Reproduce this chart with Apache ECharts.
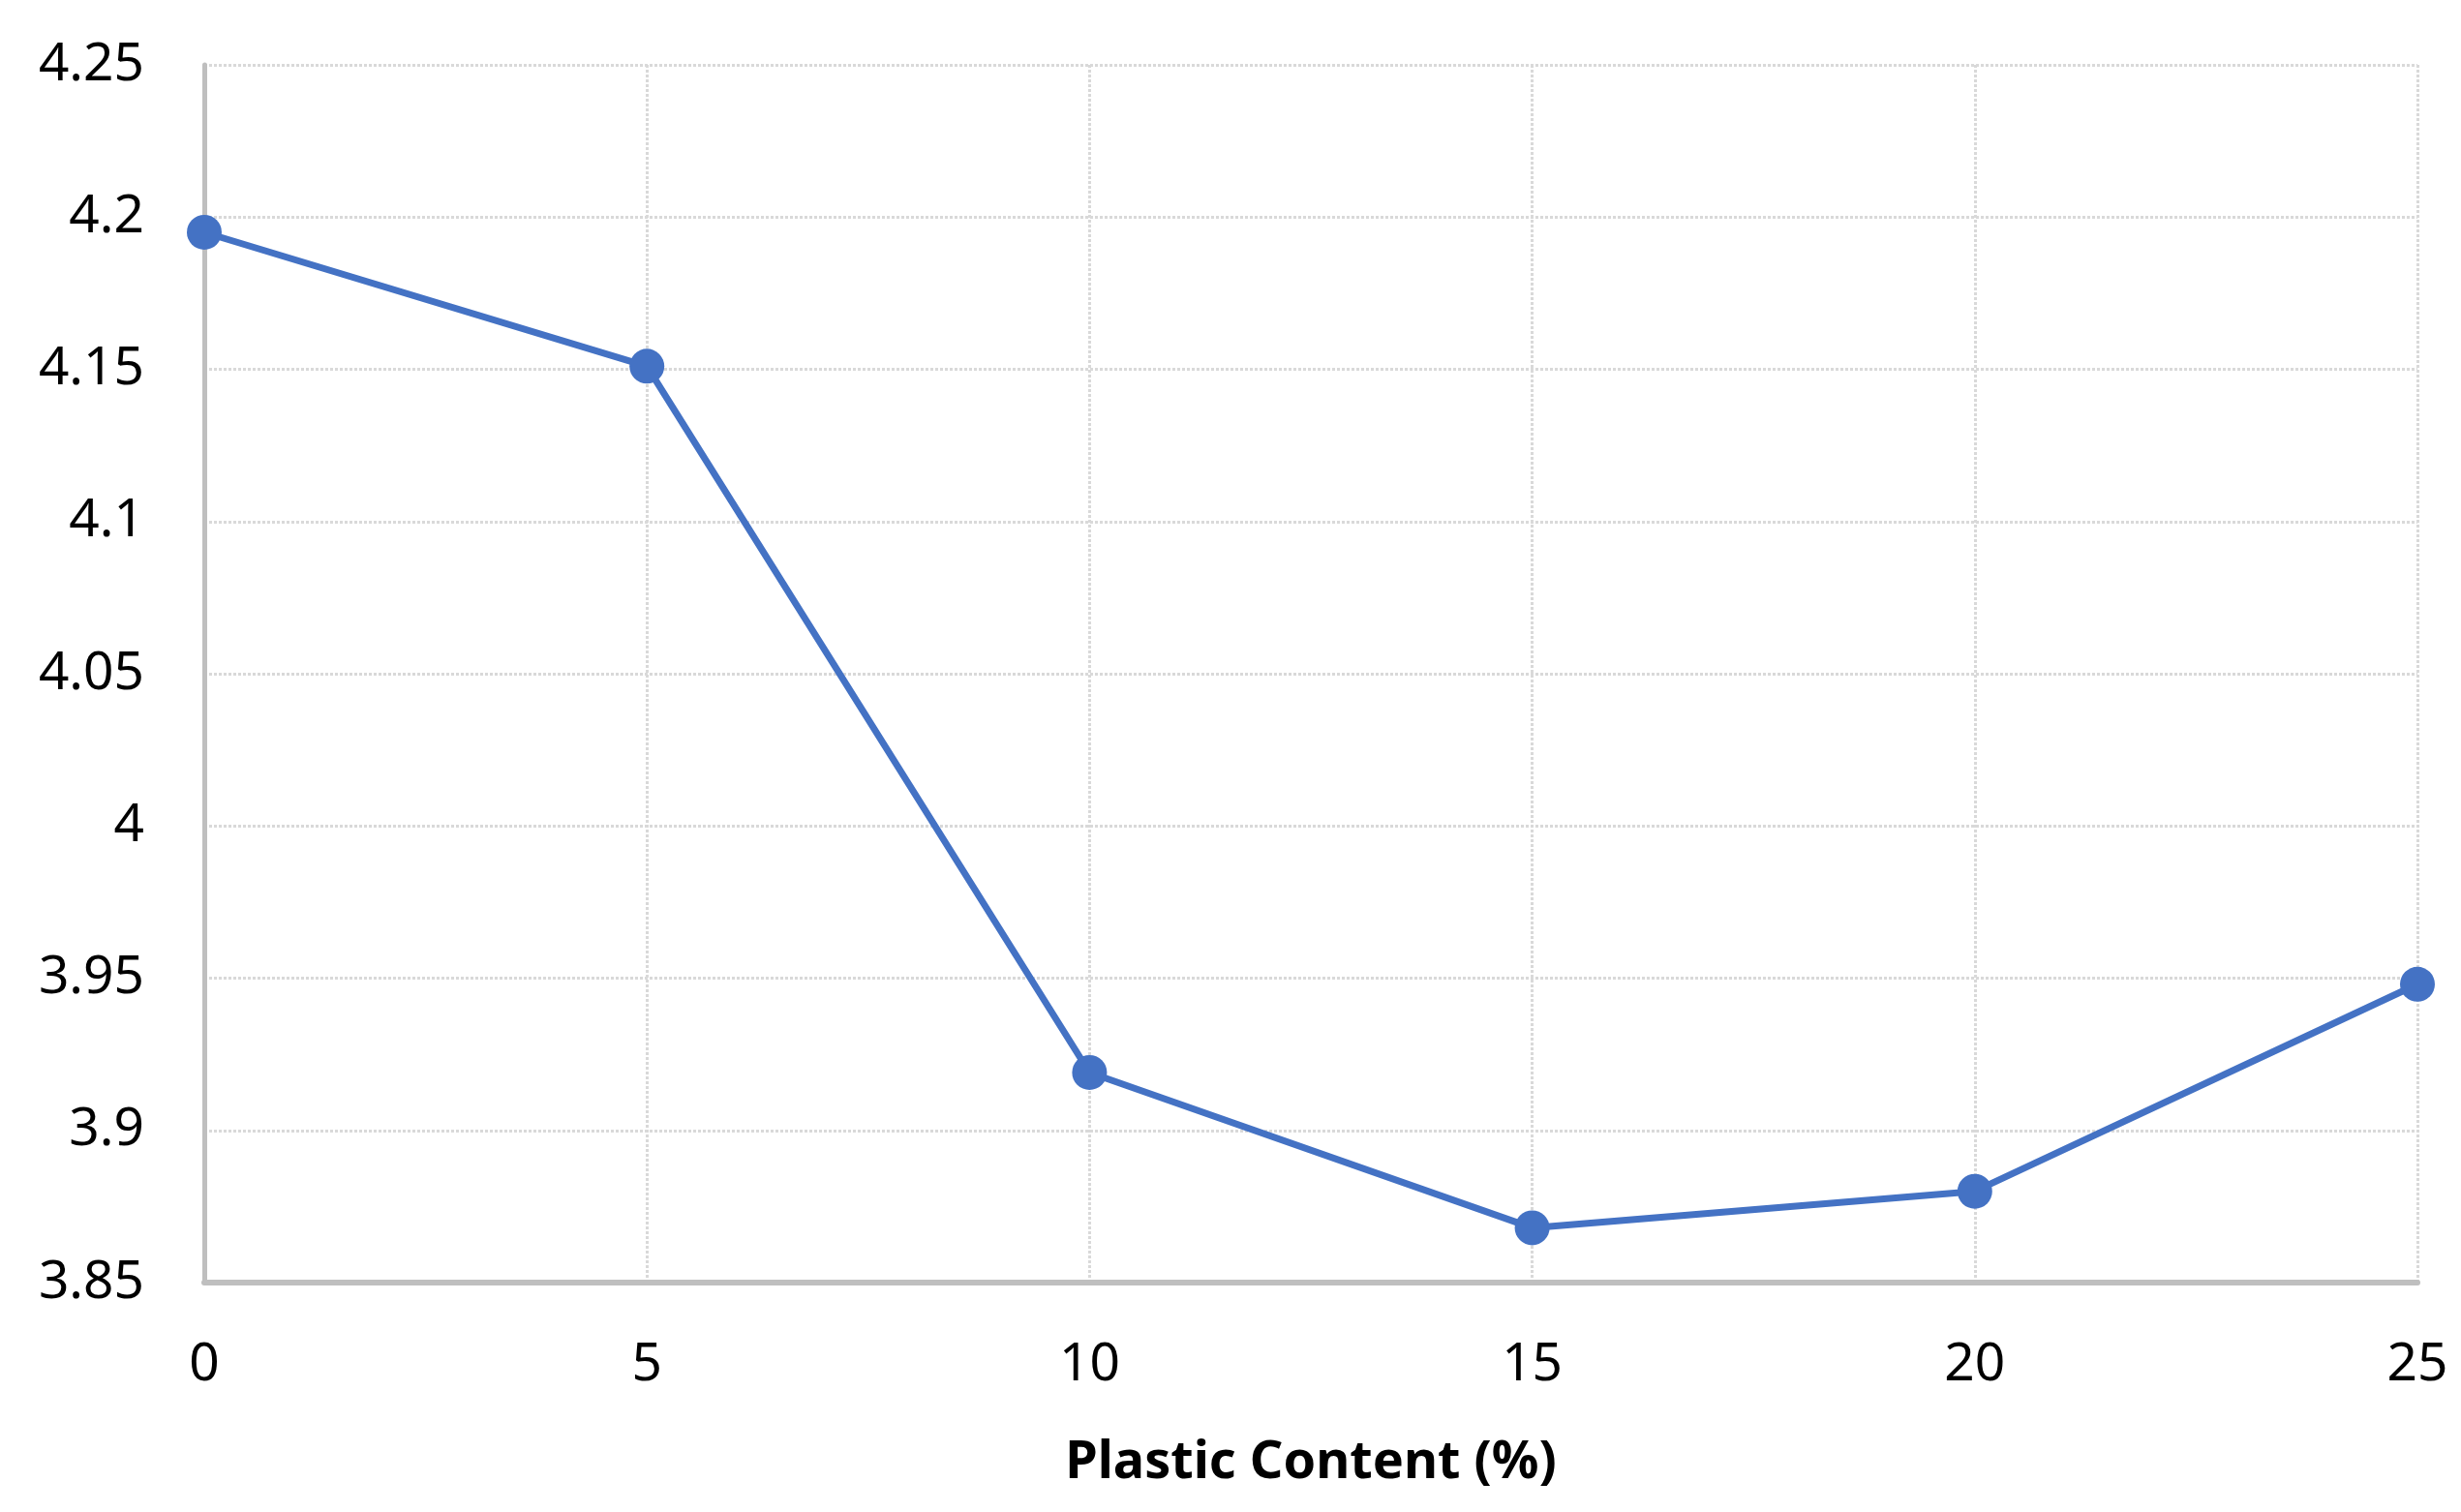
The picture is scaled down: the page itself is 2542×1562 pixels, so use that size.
<!DOCTYPE html>
<html>
<head>
<meta charset="utf-8">
<script src="https://cdn.jsdelivr.net/npm/echarts@6/dist/echarts.min.js"></script>
<style>
  html, body { margin: 0; padding: 0; background: #fff; }
  #main { width: 2542px; height: 1562px; }
</style>
</head>
<body>
<div id="main"></div>
<script>
// plastic content (%) on x, measured value on y
var plasticContent = [0, 5, 10, 15, 20, 25];
var values = [4.195, 4.151, 3.919, 3.868, 3.880, 3.948];

var points = [];
for (var i = 0; i < plasticContent.length; i++) {
	points.push([plasticContent[i], values[i]]);
}

var myChart = echarts.init(document.getElementById('main'));

var option = {
	backgroundColor: '#ffffff',
	animation: false,
	grid: {
		left: 211,
		right: 45,
		top: 67,
		bottom: 237
	},
	xAxis: {
		type: 'value',
		min: 0,
		max: 25,
		interval: 5,
		name: 'Plastic Content (%)',
		nameLocation: 'middle',
		nameGap: 160,
		nameTextStyle: {
			fontFamily: 'Noto Sans',
			fontWeight: 'bold',
			fontSize: 54,
			color: '#000'
		},
		axisLine: { show: true, lineStyle: { color: '#bfbfbf', width: 6 } },
		axisTick: { show: false },
		axisLabel: {
			margin: 58,
			fontFamily: 'Noto Sans',
			fontSize: 55,
			color: '#000'
		},
		splitLine: { show: true, lineStyle: { color: '#d9d9d9', width: 3, type: [3, 2] } }
	},
	yAxis: {
		type: 'value',
		min: 3.85,
		max: 4.25,
		interval: 0.05,
		axisLine: { show: true, lineStyle: { color: '#bfbfbf', width: 5 } },
		axisTick: { show: false },
		axisLabel: {
			margin: 62,
			fontFamily: 'Noto Sans',
			fontSize: 55,
			color: '#000'
		},
		splitLine: { show: true, lineStyle: { color: '#d9d9d9', width: 3, type: [3, 2] } }
	},
	series: [{
		type: 'line',
		data: points,
		symbol: 'circle',
		symbolSize: 36,
		lineStyle: { color: '#4472c4', width: 7 },
		itemStyle: { color: '#4472c4' }
	}]
};

myChart.setOption(option);
</script>
</body>
</html>
